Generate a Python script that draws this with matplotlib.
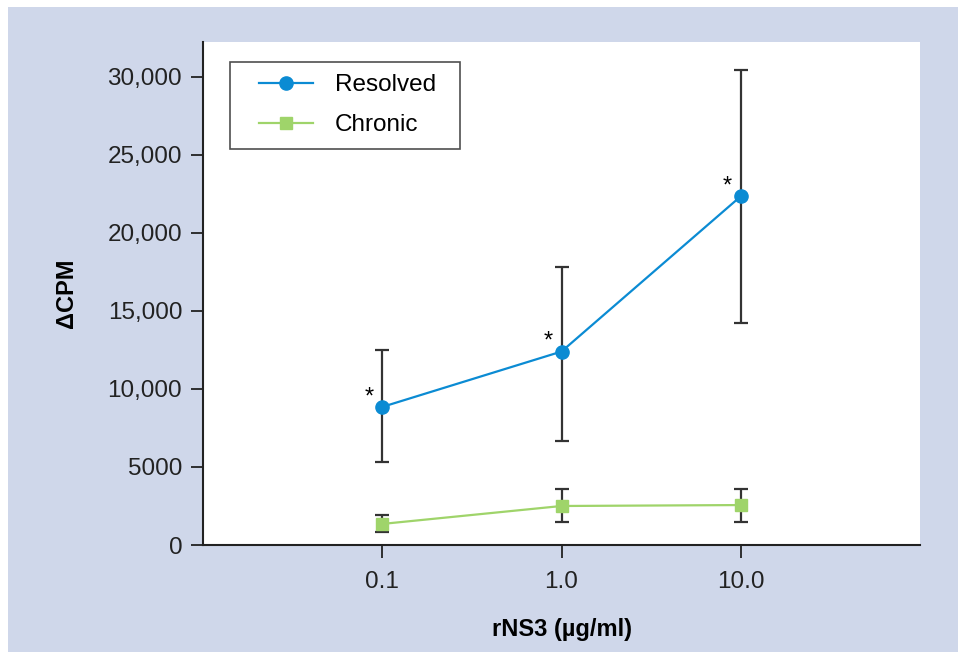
import numpy as np
import matplotlib.pyplot as plt
from matplotlib.patches import Rectangle
from matplotlib.lines import Line2D
from matplotlib.legend_handler import HandlerLine2D

plt.rcParams['font.family'] = ['Liberation Sans', 'DejaVu Sans']

# data
doses = [0.1, 1.0, 10.0]
resolved = [8850, 12400, 22350]
resolved_hi = [12500, 17800, 30450]
resolved_lo = [5350, 6650, 14200]
chronic = [1350, 2500, 2560]
chronic_hi = [1920, 3600, 3600]
chronic_lo = [830, 1470, 1470]
yticks = [0, 5000, 10000, 15000, 20000, 25000, 30000]
ytick_labels = ['0', '5000', '10,000', '15,000', '20,000', '25,000', '30,000']
xtick_labels = ['0.1', '1.0', '10.0']

blue = '#0b8bd3'
green = '#9fd46a'
bg = '#cfd7ea'
errc = '#333333'

fig = plt.figure(figsize=(9.58, 6.52), dpi=100, facecolor='white')
fig.patches.append(Rectangle((8 / 958, 0), 1, 1 - 7 / 652, transform=fig.transFigure,
                             facecolor=bg, edgecolor='none', zorder=-10))
ax = fig.add_axes([203 / 958, 1 - 545 / 652, (920 - 203) / 958, (545 - 42) / 652])
ax.set_facecolor('white')

r = np.array(resolved)
c = np.array(chronic)
ax.errorbar(doses, r, yerr=[r - np.array(resolved_lo), np.array(resolved_hi) - r],
            fmt='none', ecolor=errc, elinewidth=1.6, capsize=5, capthick=1.6, zorder=2)
ax.errorbar(doses, c, yerr=[c - np.array(chronic_lo), np.array(chronic_hi) - c],
            fmt='none', ecolor=errc, elinewidth=1.6, capsize=5, capthick=1.6, zorder=2)
ax.plot(doses, resolved, '-o', color=blue, lw=1.6, ms=9.5, label='Resolved', zorder=3)
ax.plot(doses, chronic, '-s', color=green, lw=1.6, ms=9, label='Chronic', zorder=3)

# significance markers
for d, v in zip(doses, resolved):
    ax.annotate('*', (d, v), xytext=(-9.5, 7), textcoords='offset points',
                ha='center', va='center', fontsize=17)

ax.set_xscale('log')
ax.set_xlim(0.01, 100)
ax.set_ylim(0, 32240)
ax.set_xticks(doses)
ax.set_xticklabels(xtick_labels)
ax.minorticks_off()
ax.set_yticks(yticks)
ax.set_yticklabels(ytick_labels)
ax.tick_params(direction='out', length=9, width=1.3, colors='#222222',
               labelsize=17.5, pad=6)
ax.tick_params(axis='x', pad=10)
for s in ['top', 'right']:
    ax.spines[s].set_visible(False)
for s in ['left', 'bottom']:
    ax.spines[s].set_linewidth(1.5)
    ax.spines[s].set_color('#222222')

ax.set_xlabel('rNS3 (µg/ml)', fontsize=17, fontweight='bold', labelpad=18)
ax.set_ylabel('\u0394CPM', fontsize=17, fontweight='bold', labelpad=21)

# legend box stretched to the reference width
leg = ax.legend(loc='upper left', bbox_to_anchor=(0.0377, 0.5, 0.3208, 0.4602),
                mode='expand', fontsize=17.5, frameon=True, fancybox=False,
                handlelength=2.9, borderpad=0.5, labelspacing=0.75,
                handletextpad=0.9, borderaxespad=0,
                handler_map={Line2D: HandlerLine2D(xpad=0.7)})
leg.get_frame().set_edgecolor('#222222')
leg.get_frame().set_linewidth(1.2)

fig.savefig('out.png', dpi=100, facecolor=fig.get_facecolor())
